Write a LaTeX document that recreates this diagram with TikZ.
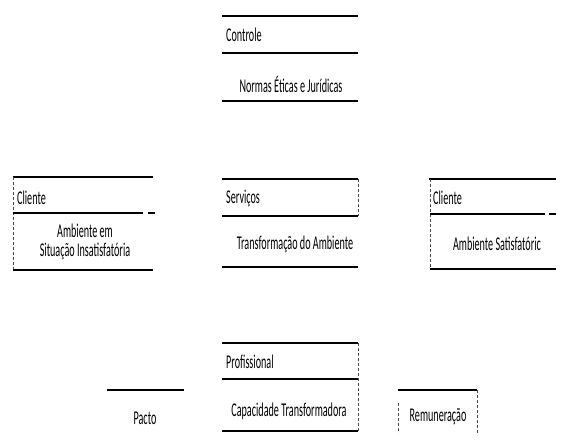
\documentclass[tikz,border=0pt]{standalone}
\usepackage{fontspec}
\setmainfont[FakeStretch=0.52]{Carlito}

\begin{document}
\begin{tikzpicture}[x=1pt, y=-1pt,
  rule/.style={line width=1.3pt},
  side/.style={line width=0.6pt, dash pattern=on 3pt off 2pt, black!70},
  boxtitle/.style={anchor=west, inner sep=0pt, font=\fontsize{19.5}{19}\selectfont},
  boxbody/.style={align=center, inner sep=0pt, font=\fontsize{19.5}{19}\selectfont}]
\useasboundingbox (0,0) rectangle (567,439);

% Controle
\draw[rule] (222,16) -- (358,16);
\node[boxtitle] (controle) at (226,35) {Controle};
\draw[rule] (222,53) -- (358,53);
\node[boxbody] (normas) at (291,84) {Normas Éticas e Jurídicas};
\draw[rule] (222,101) -- (358,101);

% Cliente (left)
\draw[rule] (13,177) -- (153,177);
\draw[side] (13,177) -- (13,270);
\node[boxtitle] (clienteA) at (17,198) {Cliente};
\draw[rule] (13,213) -- (143,213) (148,213) -- (155,213);
\node[boxbody] (insatisf) at (85,242) {Ambiente em\\Situação Insatisfatória};
\draw[rule] (13,270) -- (153,270);

% Servicos
\draw[rule] (222,179) -- (358,179);
\draw[side] (358,179) -- (358,216);
\node[boxtitle] (servicos) at (226,198) {Serviços};
\draw[rule] (222,216) -- (358,216);
\node[boxbody] (transf) at (295,244) {Transformação do Ambiente};
\draw[rule] (222,267) -- (358,267);

% Cliente (right)
\draw[rule] (429,179) -- (556,179);
\draw[side] (430,179) -- (430,269);
\node[boxtitle] (clienteB) at (433,198) {Cliente};
\draw[rule] (430,214) -- (545,214) (549,214) -- (556,214);
\node[boxbody] (satisf) at (497,244) {Ambiente Satisfatóric};
\draw[rule] (430,269) -- (556,269);

% Profissional
\draw[rule] (222,343) -- (358,343);
\draw[side] (358,343) -- (358,431);
\node[boxtitle] (profissional) at (226,362) {Profissional};
\draw[rule] (222,379) -- (358,379);
\node[boxbody] (capacidade) at (289,411) {Capacidade Transformadora};
\draw[rule] (222,431) -- (358,431);

% Pacto
\draw[rule] (107,390) -- (184,390);
\node[boxbody] (pacto) at (145,418) {Pacto};

% Remuneracao
\draw[rule] (398,390) -- (477,390);
\draw[side] (477,390) -- (477,433);
\draw[side] (398,403) -- (398,433);
\node[boxbody] (remuneracao) at (438,417) {Remuneração};
\end{tikzpicture}
\end{document}
